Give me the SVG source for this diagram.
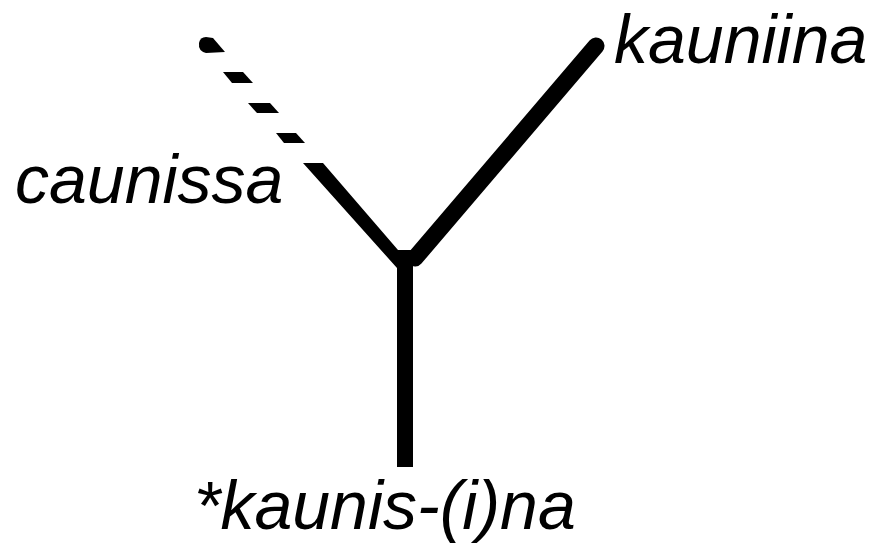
<svg xmlns="http://www.w3.org/2000/svg" width="876" height="544" viewBox="0 0 876 544">
<style>
.lbl{font-family:"Liberation Sans",Arial,sans-serif;font-style:italic;font-size:68px;fill:#000}
.ink{fill:#000;stroke:none}
</style>
<rect width="876" height="544" fill="#fff"/>
<g id="connectors">
<path class="ink" d="M199,43 Q200,37 206,37 L213,38 L225,52 L206,53 Q198,51 199,43 Z"/>
<polygon class="ink" points="223,72 243,72 253,83 232,83"/>
<polygon class="ink" points="248,103 270,103 279,113 257,113"/>
<polygon class="ink" points="276,133 296,133 305,143 284,143"/>
<polygon class="ink" points="303,163 323,163 398,250 413,250 413,467 397,467 397,268"/>
<line x1="415" y1="258" x2="596" y2="46" stroke="#000" stroke-width="17" stroke-linecap="round"/>
</g>
<g id="node-kauniina"><text class="lbl" x="614" y="63">kauniina</text></g>
<g id="node-caunissa"><text class="lbl" x="15" y="203">caunissa</text></g>
<g id="node-root"><text class="lbl" x="194" y="529">*kaunis-(i)na</text></g>
</svg>
